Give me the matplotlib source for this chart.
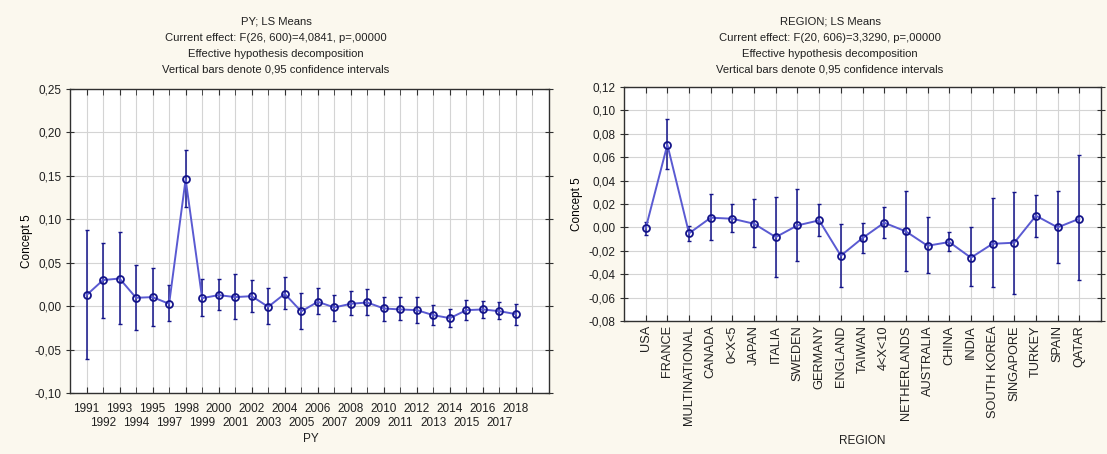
import matplotlib
matplotlib.use("Agg")
import matplotlib.pyplot as plt
from matplotlib.ticker import FuncFormatter, MultipleLocator

# ---- data: PY (publication year) LS means with 0.95 CI ----
years = ["1991", "1992", "1993", "1994", "1995", "1997", "1998", "1999", "2000",
         "2001", "2002", "2003", "2004", "2005", "2006", "2007", "2008", "2009",
         "2010", "2011", "2012", "2013", "2014", "2015", "2016", "2017", "2018"]
py_mean = [0.0127, 0.0300, 0.0318, 0.0096, 0.0104, 0.0027, 0.1460, 0.0092, 0.0127,
           0.0104, 0.0115, -0.0008, 0.0142, -0.0061, 0.0050, -0.0015, 0.0027, 0.0042,
           -0.0027, -0.0038, -0.0046, -0.0104, -0.0138, -0.0046, -0.0038, -0.0058, -0.0092]
py_upper = [0.0875, 0.0730, 0.0856, 0.0476, 0.0437, 0.0246, 0.1800, 0.0315, 0.0315,
            0.0372, 0.0303, 0.0210, 0.0338, 0.0146, 0.0210, 0.0134, 0.0169, 0.0200,
            0.0111, 0.0100, 0.0100, 0.0012, -0.0038, 0.0073, 0.0061, 0.0050, 0.0023]
py_lower = [-0.0606, -0.0138, -0.0203, -0.0272, -0.0230, -0.0169, 0.1140, -0.0115, -0.0046,
            -0.0146, -0.0069, -0.0200, -0.0038, -0.0260, -0.0088, -0.0169, -0.0104, -0.0104,
            -0.0169, -0.0157, -0.0190, -0.0215, -0.0238, -0.0161, -0.0138, -0.0146, -0.0215]

# ---- data: REGION LS means with 0.95 CI ----
regions = ["USA", "FRANCE", "MULTINATIONAL", "CANADA", "0<X<5", "JAPAN", "ITALIA",
           "SWEDEN", "GERMANY", "ENGLAND", "TAIWAN", "4<X<10", "NETHERLANDS",
           "AUSTRALIA", "CHINA", "INDIA", "SOUTH KOREA", "SINGAPORE", "TURKEY",
           "SPAIN", "QATAR"]
reg_mean = [-0.0009, 0.0707, -0.0051, 0.0083, 0.0074, 0.0031, -0.0083, 0.0017, 0.0060,
            -0.0242, -0.0091, 0.0040, -0.0034, -0.0157, -0.0125, -0.0259, -0.0140,
            -0.0131, 0.0100, 0.0000, 0.0074]
reg_upper = [0.0050, 0.0923, 0.0014, 0.0288, 0.0200, 0.0240, 0.0262, 0.0328, 0.0200,
             0.0028, 0.0037, 0.0171, 0.0313, 0.0088, -0.0037, 0.0006, 0.0248,
             0.0302, 0.0279, 0.0313, 0.0615]
reg_lower = [-0.0066, 0.0496, -0.0117, -0.0105, -0.0043, -0.0171, -0.0422, -0.0290, -0.0071,
             -0.0513, -0.0219, -0.0088, -0.0370, -0.0387, -0.0200, -0.0504, -0.0513,
             -0.0570, -0.0080, -0.0305, -0.0453]

BG = "#fbf8ee"
LINE = "#5a5ad2"
DARK = "#14148a"
FONT = ["Liberation Sans", "DejaVu Sans"]
plt.rcParams["font.family"] = FONT
plt.rcParams["text.color"] = "#202020"

W, H = 1107, 454
fig = plt.figure(figsize=(W / 100, H / 100), dpi=100, facecolor=BG)


def box(x0, y0, x1, y1):
    return [x0 / W, 1 - y1 / H, (x1 - x0) / W, (y1 - y0) / H]


def comma(v, _):
    s = f"{v:.2f}".replace(".", ",")
    return "0,00" if s == "-0,00" else s


def style_axes(ax):
    ax.set_facecolor("white")
    ax.grid(True, which="both", color="#d4d4d4", linewidth=0.8)
    ax.set_axisbelow(True)
    for sp in ax.spines.values():
        sp.set_color("#303030")
        sp.set_linewidth(1.0)
    ax.tick_params(axis="both", which="both", direction="in", length=4,
                   top=True, right=True, color="#303030", labelsize=8.5,
                   labelcolor="#202020")
    ax.tick_params(axis="y", which="both", direction="inout", length=6, pad=3)
    ax.yaxis.set_major_formatter(FuncFormatter(comma))


def draw(ax, n, mean, lower, upper):
    x = list(range(n))
    err = [[m - lo for m, lo in zip(mean, lower)],
           [hi - m for m, hi in zip(mean, upper)]]
    ax.errorbar(x, mean, yerr=err, fmt="none", ecolor=DARK, elinewidth=1.1,
                capsize=1.5, capthick=1.0, zorder=3)
    ax.plot(x, mean, color=LINE, linewidth=1.4, zorder=4)
    ax.plot(x, mean, linestyle="none", marker="o", markersize=5,
            markerfacecolor="none", markeredgecolor=DARK, markeredgewidth=1.3,
            zorder=5)


# ---- left panel: PY ----
ax1 = fig.add_axes(box(70, 89, 549, 393))
style_axes(ax1)
draw(ax1, len(years), py_mean, py_lower, py_upper)
ax1.set_xlim(-1, len(years) + 1)
ax1.set_ylim(-0.10, 0.25)
ax1.yaxis.set_major_locator(MultipleLocator(0.05))
even = list(range(0, len(years), 2))
odd = list(range(1, len(years), 2)) + [len(years)]
ax1.set_xticks(even, [years[i] for i in even])
ax1.set_xticks(odd, [years[i] if i < len(years) else "" for i in odd], minor=True)
ax1.tick_params(axis="x", which="major", pad=7, labelsize=8.5)
ax1.tick_params(axis="x", which="minor", pad=17, labelsize=8.5)
ax1.set_ylabel("Concept 5", fontsize=8.5, labelpad=1)
fig.text(311 / W, 1 - 439 / H, "PY", ha="center", va="center", fontsize=8.5)

# ---- right panel: REGION ----
ax2 = fig.add_axes(box(624, 87, 1101, 321))
style_axes(ax2)
draw(ax2, len(regions), reg_mean, reg_lower, reg_upper)
ax2.set_xlim(-1, len(regions))
ax2.set_ylim(-0.08, 0.12)
ax2.yaxis.set_major_locator(MultipleLocator(0.02))
ax2.set_xticks(range(len(regions)))
ax2.set_xticklabels(regions, rotation=90, fontsize=9.2)
ax2.tick_params(axis="x", pad=3)
ax2.set_ylabel("Concept 5", fontsize=8.5, labelpad=4)
fig.text(862 / W, 1 - 441 / H, "REGION", ha="center", va="center", fontsize=8.5)

# ---- titles ----
titles = [
    (276, ["PY; LS Means",
           "Current effect: F(26, 600)=4,0841, p=,00000",
           "Effective hypothesis decomposition",
           "Vertical bars denote 0,95 confidence intervals"]),
    (830, ["REGION; LS Means",
           "Current effect: F(20, 606)=3,3290, p=,00000",
           "Effective hypothesis decomposition",
           "Vertical bars denote 0,95 confidence intervals"]),
]
for xc, lines in titles:
    for k, t in enumerate(lines):
        fig.text(xc / W, 1 - (22 + 16 * k) / H, t, ha="center", va="center",
                 fontsize=8.1)

fig.savefig("out.png", dpi=100, facecolor=BG)
